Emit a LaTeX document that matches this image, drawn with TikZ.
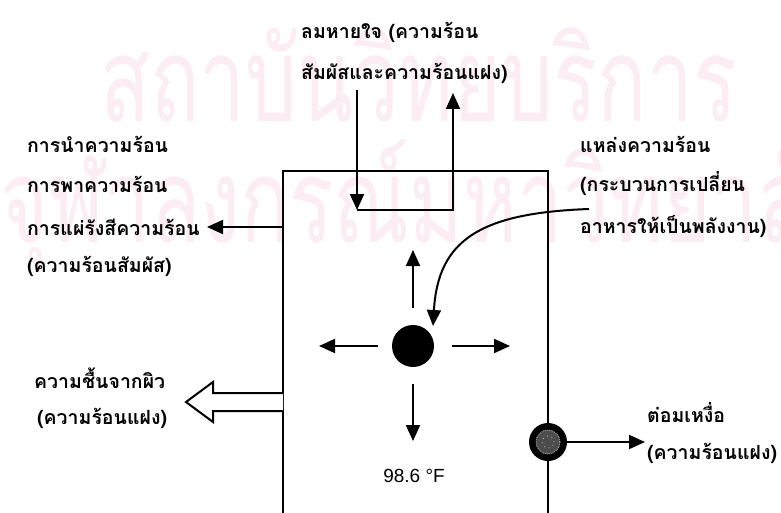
\documentclass[tikz,border=0pt]{standalone}
\usepackage{fontspec}
\setmainfont{Liberation Sans}
\newfontfamily\thai[Script=Thai]{Loma}
\usetikzlibrary{arrows.meta}
\definecolor{wm}{RGB}{251,237,243}
\begin{document}
\begin{tikzpicture}[x=1pt,y=-1pt,
  lbl/.style={font=\thai\bfseries\fontsize{19.5}{22}\selectfont, anchor=west, inner sep=0pt},
  wmark/.style={font=\thai\fontsize{117}{120}\selectfont, text=wm, anchor=base west, inner sep=0pt},
  arr/.style={line width=2pt, -{Triangle[length=16pt,width=14pt]}},
  wall/.style={line width=1.8pt},
  hollow/.style={line width=2pt, fill=white, line join=miter}]
\useasboundingbox (0,0) rectangle (781,513);
\fill[white] (0,0) rectangle (781,513);
% watermark
\node[wmark] (wm1) at (100,122) {\scalebox{0.7}[1]{สถาบันวิทยบริการ}};
\node[wmark] (wm2) at (0,242) {\scalebox{0.7}[1]{จุฬาลงกรณ์มหาวิทยาลัย}};
% body box
\coordinate (bl) at (283,513);
\coordinate (tl) at (283,171);
\coordinate (tr) at (548,171);
\coordinate (br) at (548,513);
\draw[wall] (bl) -- (tl) -- (tr) -- (br);
% texts
\node[lbl] (breath1) at (301,32) {ลมหายใจ (ความร้อน};
\node[lbl] (breath2) at (301,73) {สัมผัสและความร้อนแฝง)};
\node[lbl] (cond1) at (27,144) {การนำความร้อน};
\node[lbl] (cond2) at (27,184) {การพาความร้อน};
\node[lbl] (cond3) at (27,227) {การแผ่รังสีความร้อน};
\node[lbl] (cond4) at (27,266) {(ความร้อนสัมผัส)};
\node[lbl] (src1) at (580,144) {แหล่งความร้อน};
\node[lbl] (src2) at (580,184) {(กระบวนการเปลี่ยน};
\node[lbl] (src3) at (580,227) {อาหารให้เป็นพลังงาน)};
\node[lbl] (skin1) at (34,378) {ความชื้นจากผิว};
\node[lbl] (skin2) at (37,418) {(ความร้อนแฝง)};
\node[lbl] (sw1) at (647,413) {ต่อมเหงื่อ};
\node[lbl] (sw2) at (647,453) {(ความร้อนแฝง)};
\node[font=\fontsize{19}{22}\selectfont, inner sep=0pt] (temp) at (414,476) {98.6 °F};
% breath path
\coordinate (bin) at (357,90);
\coordinate (bc1) at (357,210);
\coordinate (bc2) at (453,210);
\coordinate (bout) at (453,93);
\draw[arr] (bin) -- (bc1);
\draw[arr, line join=miter] (bc1) -- (bc2) -- (bout);
% conduction arrow
\coordinate (cstart) at (283,227);
\coordinate (cend) at (207,227);
\draw[arr] (cstart) -- (cend);
% core
\node[circle, fill=black, minimum size=42pt, inner sep=0pt] (core) at (413,346) {};
\coordinate (up0) at (413,308);  \coordinate (up1) at (413,250);
\coordinate (lf0) at (378,346);  \coordinate (lf1) at (319,346);
\coordinate (rt0) at (452,346);  \coordinate (rt1) at (510,346);
\coordinate (dn0) at (413,384);  \coordinate (dn1) at (413,441);
\draw[arr] (up0) -- (up1);
\draw[arr] (lf0) -- (lf1);
\draw[arr] (rt0) -- (rt1);
\draw[arr] (dn0) -- (dn1);
% heat source curve
\coordinate (hs) at (589,209);
\coordinate (hsend) at (433,326);
\draw[arr] (hs) .. controls (480,213) and (438,240) .. (hsend);
% skin moisture hollow arrow
\coordinate (sk) at (283,402);
\draw[hollow] (sk) ++(0,-9) -- (213,393) -- (213,382) -- (186,402) -- (213,422) -- (213,411) -- (283,411);
% sweat gland
\node[circle, fill=black, minimum size=38pt, inner sep=0pt] (gland) at (548,442) {};
\fill[black!70] (gland.center) circle (12pt);
\draw[gray!60, densely dotted, line width=0.9pt] (gland.center) circle (12pt);
\draw[gray!50, loosely dotted, line width=0.8pt] (gland.center) circle (6pt);
\coordinate (swend) at (645,442);
\draw[arr] (gland.east) -- (swend);
\end{tikzpicture}
\end{document}
